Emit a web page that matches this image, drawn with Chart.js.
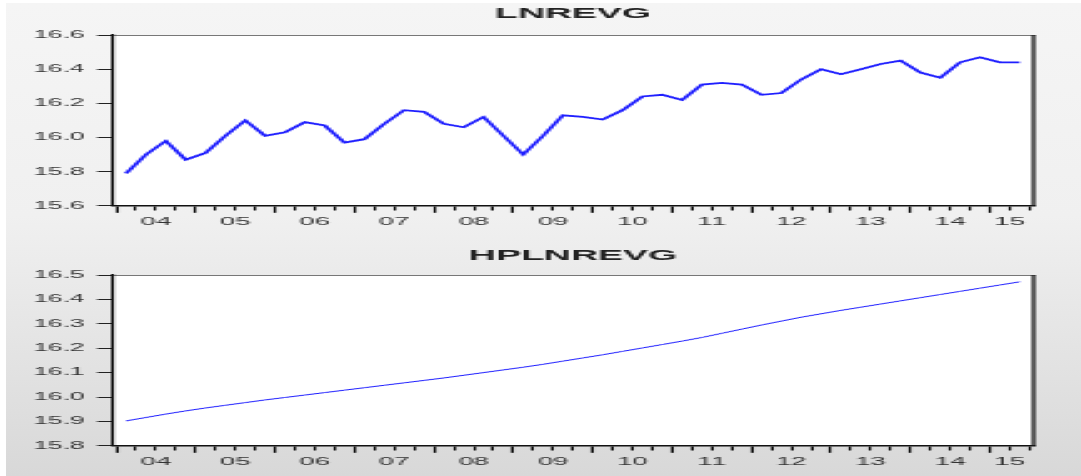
<!DOCTYPE html>
<html>
<head>
<meta charset="utf-8">
<script src="https://cdn.jsdelivr.net/npm/chart.js@4.4.1/dist/chart.umd.min.js"></script>
<style>
  body { margin: 0; background: #fff; }
  #frame { position: absolute; left: 6px; top: 3px; width: 1075px; height: 473px; overflow: hidden;
           background: linear-gradient(#f5f5f5 0%, #f0f0f0 45%, #d8d8d8 100%); }
  /* the reference is a screenshot stretched sideways, so draw narrow and stretch it too */
  #stretch { width: 430px; height: 473px; transform: scaleX(2.5); transform-origin: 0 0; }
  canvas { display: block; }
</style>
</head>
<body>
<div id="frame"><div id="stretch">
  <canvas id="topChart" width="430" height="236"></canvas>
  <canvas id="bottomChart" width="430" height="237"></canvas>
</div></div>
<script>
const quarters = [
  '2004Q1','2004Q2','2004Q3','2004Q4','2005Q1','2005Q2','2005Q3','2005Q4',
  '2006Q1','2006Q2','2006Q3','2006Q4','2007Q1','2007Q2','2007Q3','2007Q4',
  '2008Q1','2008Q2','2008Q3','2008Q4','2009Q1','2009Q2','2009Q3','2009Q4',
  '2010Q1','2010Q2','2010Q3','2010Q4','2011Q1','2011Q2','2011Q3','2011Q4',
  '2012Q1','2012Q2','2012Q3','2012Q4','2013Q1','2013Q2','2013Q3','2013Q4',
  '2014Q1','2014Q2','2014Q3','2014Q4','2015Q1','2015Q2'
];
const yearLabels = ['04','05','06','07','08','09','10','11','12','13','14','15'];

const lnrevg = [
  15.79, 15.90, 15.98, 15.87, 15.91, 16.01, 16.10, 16.01,
  16.03, 16.09, 16.07, 15.97, 15.99, 16.08, 16.16, 16.15,
  16.08, 16.06, 16.12, 16.01, 15.90, 16.01, 16.13, 16.12,
  16.105, 16.16, 16.24, 16.25, 16.22, 16.31, 16.32, 16.31,
  16.25, 16.26, 16.34, 16.40, 16.37, 16.40, 16.43, 16.45,
  16.38, 16.35, 16.44, 16.47, 16.44, 16.44
];
const hplnrevg = [
  15.902, 15.916, 15.930, 15.943, 15.955, 15.966, 15.977, 15.988,
  15.998, 16.008, 16.018, 16.028, 16.038, 16.048, 16.058, 16.068,
  16.078, 16.089, 16.100, 16.111, 16.122, 16.134, 16.147, 16.160,
  16.173, 16.187, 16.201, 16.215, 16.229, 16.244, 16.261, 16.278,
  16.295, 16.311, 16.327, 16.341, 16.355, 16.368, 16.381, 16.394,
  16.407, 16.420, 16.433, 16.446, 16.459, 16.472
];
const yTicksTop = [15.6, 15.8, 16.0, 16.2, 16.4, 16.6];
const yTicksBottom = [15.8, 15.9, 16.0, 16.1, 16.2, 16.3, 16.4, 16.5];

// quarter -> position in years (start of the quarter)
function quarterStart(q) {
  return parseInt(q.slice(0, 4)) + (parseInt(q.slice(5)) - 1) / 4;
}

const xBounds = quarters.map(quarterStart).concat(quarterStart(quarters[quarters.length - 1]) + 0.25);
const xMin = xBounds[0] - 0.05;
const xMax = xBounds[xBounds.length - 1] + 0.05;

// year label sits in the middle of the quarters that year has
const yearLabelAt = {};
yearLabels.forEach(function(lab) {
  const qs = quarters.filter(q => q.slice(2, 4) === lab);
  const mid = (quarterStart(qs[0]) + quarterStart(qs[qs.length - 1]) + 0.25) / 2;
  yearLabelAt[mid] = lab;
});

Chart.defaults.font.family = '"Liberation Sans", Arial, sans-serif';
Chart.defaults.color = '#333';

// white plot area and the dark right edge of the frame
const plotFrame = {
  id: 'plotFrame',
  beforeDraw(chart) {
    const ctx = chart.ctx, a = chart.chartArea;
    ctx.save();
    ctx.fillStyle = '#fff';
    ctx.fillRect(a.left, a.top, a.right - a.left, a.bottom - a.top);
    ctx.restore();
  },
  afterDraw(chart) {
    const ctx = chart.ctx, a = chart.chartArea;
    ctx.save();
    ctx.strokeStyle = '#1a1a1a';
    ctx.lineWidth = 1.4;
    ctx.beginPath();
    ctx.moveTo(a.right, a.top);
    ctx.lineTo(a.right, a.bottom);
    ctx.stroke();
    ctx.restore();
  }
};

function makePanel(canvasId, title, values, yTicks, lineWidth, titlePad, bottomPad) {
  const config = {
    type: 'line',
    data: {
      datasets: [{
        label: title,
        data: values.map((v, i) => ({ x: quarterStart(quarters[i]) + 0.125, y: v })),
        borderColor: '#1f1fff',
        borderWidth: lineWidth,
        pointRadius: 0,
        tension: 0,
        fill: false
      }]
    },
    options: {
      responsive: false,
      animation: false,
      layout: { padding: { left: 6, right: 19, top: 0, bottom: bottomPad } },
      plugins: {
        legend: { display: false },
        tooltip: { enabled: false }
      },
      scales: {
        x: {
          type: 'linear',
          min: xMin,
          max: xMax,
          afterBuildTicks: axis => { axis.ticks = xBounds.map(v => ({ value: v })); },
          border: { display: true, color: '#111', width: 1.5 },
          grid: {
            drawOnChartArea: false,
            tickLength: 7,
            tickColor: '#111',
            tickWidth: 1.1,
            tickBorderDash: ctx => Number.isInteger(ctx.tick.value) ? [] : [4, 20]
          },
          ticks: {
            autoSkip: false,
            maxRotation: 0,
            padding: 3,
            font: { size: 11 },
            callback: value => yearLabelAt[value] || ''
          }
        },
        // top axis only carries the panel title (centred on the plot) and the thin top edge
        xTop: {
          type: 'linear',
          position: 'top',
          min: xMin,
          max: xMax,
          border: { display: true, color: '#777', width: 1 },
          grid: { display: false, drawTicks: false },
          ticks: { display: false },
          title: {
            display: true,
            text: title,
            color: '#222',
            font: { size: 15, weight: 'bold' },
            padding: titlePad
          }
        },
        y: {
          min: yTicks[0],
          max: yTicks[yTicks.length - 1],
          afterBuildTicks: axis => { axis.ticks = yTicks.map(v => ({ value: v })); },
          border: { display: true, color: '#111', width: 1.2 },
          grid: {
            drawOnChartArea: false,
            tickLength: 6,
            tickColor: '#222',
            tickWidth: 1
          },
          ticks: {
            padding: 5,
            font: { size: 10.5 },
            callback: value => value.toFixed(1)
          }
        }
      }
    },
    plugins: [plotFrame]
  };
  return new Chart(document.getElementById(canvasId), config);
}

var topChart = makePanel('topChart', 'LNREVG', lnrevg, yTicksTop, 1.8, { top: 2, bottom: 12 }, 7);
var bottomChart = makePanel('bottomChart', 'HPLNREVG', hplnrevg, yTicksBottom, 1, { top: 8, bottom: 10 }, 4);
</script>
</body>
</html>
